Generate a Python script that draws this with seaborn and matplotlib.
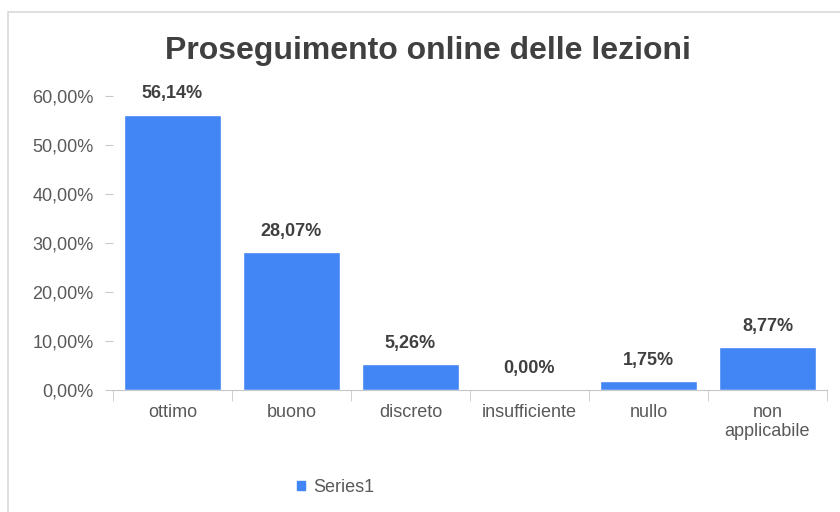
import matplotlib.pyplot as plt
from matplotlib.patches import Patch, Rectangle
import pandas as pd
import seaborn as sns

# dati
categorie = ["ottimo", "buono", "discreto", "insufficiente", "nullo", "non\napplicabile"]
valori = [0.5614, 0.2807, 0.0526, 0.0, 0.0175, 0.0877]
serie = "Series1"
titolo = "Proseguimento online delle lezioni"

blu = "#4285F4"
grigio = "#595959"

sns.set_style("white")
plt.rcParams["font.family"] = ["Liberation Sans", "DejaVu Sans"]

df = pd.DataFrame({"categoria": categorie, "valore": valori})

fig = plt.figure(figsize=(8.4, 5.12), dpi=100)
ax = fig.add_axes([0.1345, 0.2383, 0.85, 0.5742])

sns.barplot(data=df, x="categoria", y="valore", color=blu, saturation=1,
            width=0.82, ax=ax)

# etichette sopra le barre
etichette = [f"{v * 100:.2f}".replace(".", ",") + "%" for v in valori]
ax.bar_label(ax.containers[0], labels=etichette, padding=9,
             fontsize=13, fontweight="bold", color="#404040")

ax.set_ylim(0, 0.6)
ax.set_xlim(-0.5, len(categorie) - 0.5)
yt = [0, 0.1, 0.2, 0.3, 0.4, 0.5, 0.6]
ax.set_yticks(yt)
ax.set_yticklabels([f"{t * 100:.2f}".replace(".", ",") + "%" for t in yt])
ax.set_xlabel("")
ax.set_ylabel("")

for s in ["top", "right", "left"]:
    ax.spines[s].set_visible(False)
ax.spines["bottom"].set_color("#c8c8c8")

ax.tick_params(axis="y", length=6, color="#c8c8c8", labelsize=13,
               labelcolor=grigio, pad=8, left=True)
ax.tick_params(axis="x", which="major", length=0, labelsize=13,
               labelcolor=grigio, pad=10)
ax.set_xticks([i - 0.5 for i in range(len(categorie) + 1)], minor=True)
ax.tick_params(axis="x", which="minor", length=8, color="#c8c8c8",
               bottom=True)

fig.suptitle(titolo, x=0.51, y=0.93, fontsize=23, fontweight="bold",
             color="#404040")

fig.legend(handles=[Patch(color=blu, label=serie)], loc="center",
           bbox_to_anchor=(0.40, 0.048), frameon=False, fontsize=13,
           handlelength=0.4, handleheight=0.4, handletextpad=0.5,
           labelcolor=grigio)

# cornice del grafico
fig.patches.append(Rectangle((8 / 840, -0.1), 1.2, 1 - 12 / 512 + 0.1,
                             transform=fig.transFigure, fill=False,
                             edgecolor="#d9d9d9", linewidth=1.2))

fig.savefig("out.png", dpi=100)
